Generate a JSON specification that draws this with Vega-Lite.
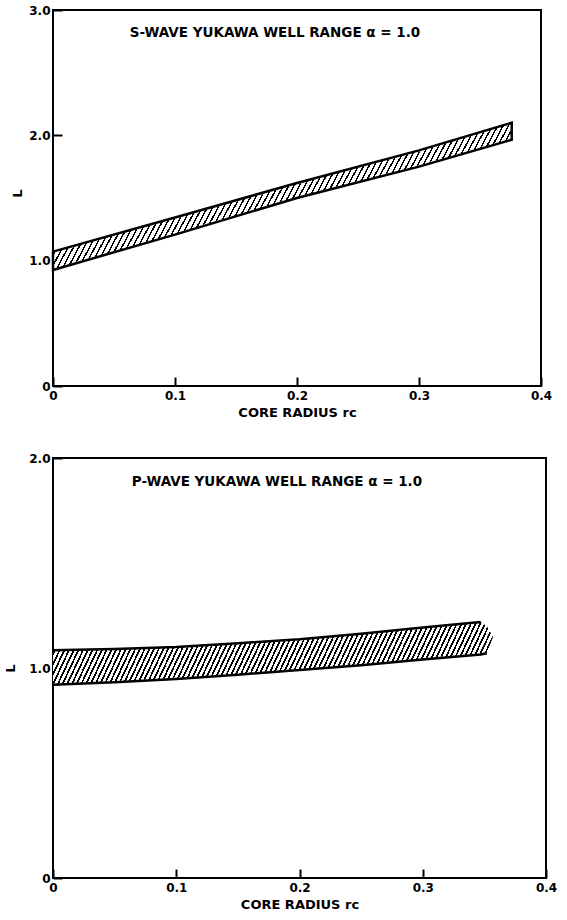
{
"$schema":"https://vega.github.io/schema/vega-lite/v6.json",
"background":"white",
"padding":{"left":3,"top":3,"right":2,"bottom":2},
"bounds":"flush",
"spacing":72,
"config":{
"view":{"stroke":"#000","strokeWidth":2},
"font":"DejaVu Sans",
"axis":{"domain":false,"grid":false,"ticks":true,"zindex":1,"tickColor":"#000","tickWidth":2,"tickSize":-9,"labelFont":"DejaVu Sans","labelFontWeight":"bold","labelFontSize":12,"labelColor":"#000","titleFont":"DejaVu Sans","titleFontWeight":"bold","titleFontSize":13,"titleColor":"#000","labelFlush":false}
},
"datasets":{
"s":[
{"rc":0,"lo":0.926,"hi":1.072},
{"rc":0.1,"lo":1.208,"hi":1.344},
{"rc":0.2,"lo":1.5,"hi":1.62},
{"rc":0.3,"lo":1.75,"hi":1.88},
{"rc":0.376,"lo":1.965,"hi":2.1}
],
"p":[
{"rc":0,"lo":0.92,"hi":1.085,"top":1.085,"bot":0.92},
{"rc":0.05,"lo":0.932,"hi":1.09,"top":1.09,"bot":0.932},
{"rc":0.1,"lo":0.948,"hi":1.1,"top":1.1,"bot":0.948},
{"rc":0.15,"lo":0.968,"hi":1.118,"top":1.118,"bot":0.968},
{"rc":0.2,"lo":0.99,"hi":1.137,"top":1.137,"bot":0.99},
{"rc":0.25,"lo":1.013,"hi":1.163,"top":1.163,"bot":1.013},
{"rc":0.3,"lo":1.04,"hi":1.193,"top":1.193,"bot":1.04},
{"rc":0.347,"lo":1.064,"hi":1.219,"top":1.219,"bot":1.064},
{"rc":0.352,"lo":1.07,"hi":1.2,"top":null,"bot":1.07},
{"rc":0.357,"lo":1.148,"hi":1.148,"top":null,"bot":null}
]
},
"vconcat":[
{
"width":488,"height":376,
"data":{"name":"s"},
"layer":[
{"mark":{"type":"area","stroke":"#000","strokeWidth":2.5,"fill":{"gradient":"linear","x1":0,"y1":0,"x2":1.137,"y2":0.194,"stops":[
{"offset":0.00,"color":"#000"},{"offset":0.003,"color":"#000"},{"offset":0.003,"color":"#fff"},{"offset":0.01,"color":"#fff"},
{"offset":0.01,"color":"#000"},{"offset":0.013,"color":"#000"},{"offset":0.013,"color":"#fff"},{"offset":0.02,"color":"#fff"},
{"offset":0.02,"color":"#000"},{"offset":0.023,"color":"#000"},{"offset":0.023,"color":"#fff"},{"offset":0.03,"color":"#fff"},
{"offset":0.03,"color":"#000"},{"offset":0.033,"color":"#000"},{"offset":0.033,"color":"#fff"},{"offset":0.04,"color":"#fff"},
{"offset":0.04,"color":"#000"},{"offset":0.043,"color":"#000"},{"offset":0.043,"color":"#fff"},{"offset":0.05,"color":"#fff"},
{"offset":0.05,"color":"#000"},{"offset":0.053,"color":"#000"},{"offset":0.053,"color":"#fff"},{"offset":0.06,"color":"#fff"},
{"offset":0.06,"color":"#000"},{"offset":0.063,"color":"#000"},{"offset":0.063,"color":"#fff"},{"offset":0.07,"color":"#fff"},
{"offset":0.07,"color":"#000"},{"offset":0.073,"color":"#000"},{"offset":0.073,"color":"#fff"},{"offset":0.08,"color":"#fff"},
{"offset":0.08,"color":"#000"},{"offset":0.083,"color":"#000"},{"offset":0.083,"color":"#fff"},{"offset":0.09,"color":"#fff"},
{"offset":0.09,"color":"#000"},{"offset":0.093,"color":"#000"},{"offset":0.093,"color":"#fff"},{"offset":0.10,"color":"#fff"},
{"offset":0.10,"color":"#000"},{"offset":0.103,"color":"#000"},{"offset":0.103,"color":"#fff"},{"offset":0.11,"color":"#fff"},
{"offset":0.11,"color":"#000"},{"offset":0.113,"color":"#000"},{"offset":0.113,"color":"#fff"},{"offset":0.12,"color":"#fff"},
{"offset":0.12,"color":"#000"},{"offset":0.123,"color":"#000"},{"offset":0.123,"color":"#fff"},{"offset":0.13,"color":"#fff"},
{"offset":0.13,"color":"#000"},{"offset":0.133,"color":"#000"},{"offset":0.133,"color":"#fff"},{"offset":0.14,"color":"#fff"},
{"offset":0.14,"color":"#000"},{"offset":0.143,"color":"#000"},{"offset":0.143,"color":"#fff"},{"offset":0.15,"color":"#fff"},
{"offset":0.15,"color":"#000"},{"offset":0.153,"color":"#000"},{"offset":0.153,"color":"#fff"},{"offset":0.16,"color":"#fff"},
{"offset":0.16,"color":"#000"},{"offset":0.163,"color":"#000"},{"offset":0.163,"color":"#fff"},{"offset":0.17,"color":"#fff"},
{"offset":0.17,"color":"#000"},{"offset":0.173,"color":"#000"},{"offset":0.173,"color":"#fff"},{"offset":0.18,"color":"#fff"},
{"offset":0.18,"color":"#000"},{"offset":0.183,"color":"#000"},{"offset":0.183,"color":"#fff"},{"offset":0.19,"color":"#fff"},
{"offset":0.19,"color":"#000"},{"offset":0.193,"color":"#000"},{"offset":0.193,"color":"#fff"},{"offset":0.20,"color":"#fff"},
{"offset":0.20,"color":"#000"},{"offset":0.203,"color":"#000"},{"offset":0.203,"color":"#fff"},{"offset":0.21,"color":"#fff"},
{"offset":0.21,"color":"#000"},{"offset":0.213,"color":"#000"},{"offset":0.213,"color":"#fff"},{"offset":0.22,"color":"#fff"},
{"offset":0.22,"color":"#000"},{"offset":0.223,"color":"#000"},{"offset":0.223,"color":"#fff"},{"offset":0.23,"color":"#fff"},
{"offset":0.23,"color":"#000"},{"offset":0.233,"color":"#000"},{"offset":0.233,"color":"#fff"},{"offset":0.24,"color":"#fff"},
{"offset":0.24,"color":"#000"},{"offset":0.243,"color":"#000"},{"offset":0.243,"color":"#fff"},{"offset":0.25,"color":"#fff"},
{"offset":0.25,"color":"#000"},{"offset":0.253,"color":"#000"},{"offset":0.253,"color":"#fff"},{"offset":0.26,"color":"#fff"},
{"offset":0.26,"color":"#000"},{"offset":0.263,"color":"#000"},{"offset":0.263,"color":"#fff"},{"offset":0.27,"color":"#fff"},
{"offset":0.27,"color":"#000"},{"offset":0.273,"color":"#000"},{"offset":0.273,"color":"#fff"},{"offset":0.28,"color":"#fff"},
{"offset":0.28,"color":"#000"},{"offset":0.283,"color":"#000"},{"offset":0.283,"color":"#fff"},{"offset":0.29,"color":"#fff"},
{"offset":0.29,"color":"#000"},{"offset":0.293,"color":"#000"},{"offset":0.293,"color":"#fff"},{"offset":0.30,"color":"#fff"},
{"offset":0.30,"color":"#000"},{"offset":0.303,"color":"#000"},{"offset":0.303,"color":"#fff"},{"offset":0.31,"color":"#fff"},
{"offset":0.31,"color":"#000"},{"offset":0.313,"color":"#000"},{"offset":0.313,"color":"#fff"},{"offset":0.32,"color":"#fff"},
{"offset":0.32,"color":"#000"},{"offset":0.323,"color":"#000"},{"offset":0.323,"color":"#fff"},{"offset":0.33,"color":"#fff"},
{"offset":0.33,"color":"#000"},{"offset":0.333,"color":"#000"},{"offset":0.333,"color":"#fff"},{"offset":0.34,"color":"#fff"},
{"offset":0.34,"color":"#000"},{"offset":0.343,"color":"#000"},{"offset":0.343,"color":"#fff"},{"offset":0.35,"color":"#fff"},
{"offset":0.35,"color":"#000"},{"offset":0.353,"color":"#000"},{"offset":0.353,"color":"#fff"},{"offset":0.36,"color":"#fff"},
{"offset":0.36,"color":"#000"},{"offset":0.363,"color":"#000"},{"offset":0.363,"color":"#fff"},{"offset":0.37,"color":"#fff"},
{"offset":0.37,"color":"#000"},{"offset":0.373,"color":"#000"},{"offset":0.373,"color":"#fff"},{"offset":0.38,"color":"#fff"},
{"offset":0.38,"color":"#000"},{"offset":0.383,"color":"#000"},{"offset":0.383,"color":"#fff"},{"offset":0.39,"color":"#fff"},
{"offset":0.39,"color":"#000"},{"offset":0.393,"color":"#000"},{"offset":0.393,"color":"#fff"},{"offset":0.40,"color":"#fff"},
{"offset":0.40,"color":"#000"},{"offset":0.403,"color":"#000"},{"offset":0.403,"color":"#fff"},{"offset":0.41,"color":"#fff"},
{"offset":0.41,"color":"#000"},{"offset":0.413,"color":"#000"},{"offset":0.413,"color":"#fff"},{"offset":0.42,"color":"#fff"},
{"offset":0.42,"color":"#000"},{"offset":0.423,"color":"#000"},{"offset":0.423,"color":"#fff"},{"offset":0.43,"color":"#fff"},
{"offset":0.43,"color":"#000"},{"offset":0.433,"color":"#000"},{"offset":0.433,"color":"#fff"},{"offset":0.44,"color":"#fff"},
{"offset":0.44,"color":"#000"},{"offset":0.443,"color":"#000"},{"offset":0.443,"color":"#fff"},{"offset":0.45,"color":"#fff"},
{"offset":0.45,"color":"#000"},{"offset":0.453,"color":"#000"},{"offset":0.453,"color":"#fff"},{"offset":0.46,"color":"#fff"},
{"offset":0.46,"color":"#000"},{"offset":0.463,"color":"#000"},{"offset":0.463,"color":"#fff"},{"offset":0.47,"color":"#fff"},
{"offset":0.47,"color":"#000"},{"offset":0.473,"color":"#000"},{"offset":0.473,"color":"#fff"},{"offset":0.48,"color":"#fff"},
{"offset":0.48,"color":"#000"},{"offset":0.483,"color":"#000"},{"offset":0.483,"color":"#fff"},{"offset":0.49,"color":"#fff"},
{"offset":0.49,"color":"#000"},{"offset":0.493,"color":"#000"},{"offset":0.493,"color":"#fff"},{"offset":0.50,"color":"#fff"},
{"offset":0.50,"color":"#000"},{"offset":0.503,"color":"#000"},{"offset":0.503,"color":"#fff"},{"offset":0.51,"color":"#fff"},
{"offset":0.51,"color":"#000"},{"offset":0.513,"color":"#000"},{"offset":0.513,"color":"#fff"},{"offset":0.52,"color":"#fff"},
{"offset":0.52,"color":"#000"},{"offset":0.523,"color":"#000"},{"offset":0.523,"color":"#fff"},{"offset":0.53,"color":"#fff"},
{"offset":0.53,"color":"#000"},{"offset":0.533,"color":"#000"},{"offset":0.533,"color":"#fff"},{"offset":0.54,"color":"#fff"},
{"offset":0.54,"color":"#000"},{"offset":0.543,"color":"#000"},{"offset":0.543,"color":"#fff"},{"offset":0.55,"color":"#fff"},
{"offset":0.55,"color":"#000"},{"offset":0.553,"color":"#000"},{"offset":0.553,"color":"#fff"},{"offset":0.56,"color":"#fff"},
{"offset":0.56,"color":"#000"},{"offset":0.563,"color":"#000"},{"offset":0.563,"color":"#fff"},{"offset":0.57,"color":"#fff"},
{"offset":0.57,"color":"#000"},{"offset":0.573,"color":"#000"},{"offset":0.573,"color":"#fff"},{"offset":0.58,"color":"#fff"},
{"offset":0.58,"color":"#000"},{"offset":0.583,"color":"#000"},{"offset":0.583,"color":"#fff"},{"offset":0.59,"color":"#fff"},
{"offset":0.59,"color":"#000"},{"offset":0.593,"color":"#000"},{"offset":0.593,"color":"#fff"},{"offset":0.60,"color":"#fff"},
{"offset":0.60,"color":"#000"},{"offset":0.603,"color":"#000"},{"offset":0.603,"color":"#fff"},{"offset":0.61,"color":"#fff"},
{"offset":0.61,"color":"#000"},{"offset":0.613,"color":"#000"},{"offset":0.613,"color":"#fff"},{"offset":0.62,"color":"#fff"},
{"offset":0.62,"color":"#000"},{"offset":0.623,"color":"#000"},{"offset":0.623,"color":"#fff"},{"offset":0.63,"color":"#fff"},
{"offset":0.63,"color":"#000"},{"offset":0.633,"color":"#000"},{"offset":0.633,"color":"#fff"},{"offset":0.64,"color":"#fff"},
{"offset":0.64,"color":"#000"},{"offset":0.643,"color":"#000"},{"offset":0.643,"color":"#fff"},{"offset":0.65,"color":"#fff"},
{"offset":0.65,"color":"#000"},{"offset":0.653,"color":"#000"},{"offset":0.653,"color":"#fff"},{"offset":0.66,"color":"#fff"},
{"offset":0.66,"color":"#000"},{"offset":0.663,"color":"#000"},{"offset":0.663,"color":"#fff"},{"offset":0.67,"color":"#fff"},
{"offset":0.67,"color":"#000"},{"offset":0.673,"color":"#000"},{"offset":0.673,"color":"#fff"},{"offset":0.68,"color":"#fff"},
{"offset":0.68,"color":"#000"},{"offset":0.683,"color":"#000"},{"offset":0.683,"color":"#fff"},{"offset":0.69,"color":"#fff"},
{"offset":0.69,"color":"#000"},{"offset":0.693,"color":"#000"},{"offset":0.693,"color":"#fff"},{"offset":0.70,"color":"#fff"},
{"offset":0.70,"color":"#000"},{"offset":0.703,"color":"#000"},{"offset":0.703,"color":"#fff"},{"offset":0.71,"color":"#fff"},
{"offset":0.71,"color":"#000"},{"offset":0.713,"color":"#000"},{"offset":0.713,"color":"#fff"},{"offset":0.72,"color":"#fff"},
{"offset":0.72,"color":"#000"},{"offset":0.723,"color":"#000"},{"offset":0.723,"color":"#fff"},{"offset":0.73,"color":"#fff"},
{"offset":0.73,"color":"#000"},{"offset":0.733,"color":"#000"},{"offset":0.733,"color":"#fff"},{"offset":0.74,"color":"#fff"},
{"offset":0.74,"color":"#000"},{"offset":0.743,"color":"#000"},{"offset":0.743,"color":"#fff"},{"offset":0.75,"color":"#fff"},
{"offset":0.75,"color":"#000"},{"offset":0.753,"color":"#000"},{"offset":0.753,"color":"#fff"},{"offset":0.76,"color":"#fff"},
{"offset":0.76,"color":"#000"},{"offset":0.763,"color":"#000"},{"offset":0.763,"color":"#fff"},{"offset":0.77,"color":"#fff"},
{"offset":0.77,"color":"#000"},{"offset":0.773,"color":"#000"},{"offset":0.773,"color":"#fff"},{"offset":0.78,"color":"#fff"},
{"offset":0.78,"color":"#000"},{"offset":0.783,"color":"#000"},{"offset":0.783,"color":"#fff"},{"offset":0.79,"color":"#fff"},
{"offset":0.79,"color":"#000"},{"offset":0.793,"color":"#000"},{"offset":0.793,"color":"#fff"},{"offset":0.80,"color":"#fff"},
{"offset":0.80,"color":"#000"},{"offset":0.803,"color":"#000"},{"offset":0.803,"color":"#fff"},{"offset":0.81,"color":"#fff"},
{"offset":0.81,"color":"#000"},{"offset":0.813,"color":"#000"},{"offset":0.813,"color":"#fff"},{"offset":0.82,"color":"#fff"},
{"offset":0.82,"color":"#000"},{"offset":0.823,"color":"#000"},{"offset":0.823,"color":"#fff"},{"offset":0.83,"color":"#fff"},
{"offset":0.83,"color":"#000"},{"offset":0.833,"color":"#000"},{"offset":0.833,"color":"#fff"},{"offset":0.84,"color":"#fff"},
{"offset":0.84,"color":"#000"},{"offset":0.843,"color":"#000"},{"offset":0.843,"color":"#fff"},{"offset":0.85,"color":"#fff"},
{"offset":0.85,"color":"#000"},{"offset":0.853,"color":"#000"},{"offset":0.853,"color":"#fff"},{"offset":0.86,"color":"#fff"},
{"offset":0.86,"color":"#000"},{"offset":0.863,"color":"#000"},{"offset":0.863,"color":"#fff"},{"offset":0.87,"color":"#fff"},
{"offset":0.87,"color":"#000"},{"offset":0.873,"color":"#000"},{"offset":0.873,"color":"#fff"},{"offset":0.88,"color":"#fff"},
{"offset":0.88,"color":"#000"},{"offset":0.883,"color":"#000"},{"offset":0.883,"color":"#fff"},{"offset":0.89,"color":"#fff"},
{"offset":0.89,"color":"#000"},{"offset":0.893,"color":"#000"},{"offset":0.893,"color":"#fff"},{"offset":0.90,"color":"#fff"},
{"offset":0.90,"color":"#000"},{"offset":0.903,"color":"#000"},{"offset":0.903,"color":"#fff"},{"offset":0.91,"color":"#fff"},
{"offset":0.91,"color":"#000"},{"offset":0.913,"color":"#000"},{"offset":0.913,"color":"#fff"},{"offset":0.92,"color":"#fff"},
{"offset":0.92,"color":"#000"},{"offset":0.923,"color":"#000"},{"offset":0.923,"color":"#fff"},{"offset":0.93,"color":"#fff"},
{"offset":0.93,"color":"#000"},{"offset":0.933,"color":"#000"},{"offset":0.933,"color":"#fff"},{"offset":0.94,"color":"#fff"},
{"offset":0.94,"color":"#000"},{"offset":0.943,"color":"#000"},{"offset":0.943,"color":"#fff"},{"offset":0.95,"color":"#fff"},
{"offset":0.95,"color":"#000"},{"offset":0.953,"color":"#000"},{"offset":0.953,"color":"#fff"},{"offset":0.96,"color":"#fff"},
{"offset":0.96,"color":"#000"},{"offset":0.963,"color":"#000"},{"offset":0.963,"color":"#fff"},{"offset":0.97,"color":"#fff"},
{"offset":0.97,"color":"#000"},{"offset":0.973,"color":"#000"},{"offset":0.973,"color":"#fff"},{"offset":0.98,"color":"#fff"},
{"offset":0.98,"color":"#000"},{"offset":0.983,"color":"#000"},{"offset":0.983,"color":"#fff"},{"offset":0.99,"color":"#fff"},
{"offset":0.99,"color":"#000"},{"offset":0.993,"color":"#000"},{"offset":0.993,"color":"#fff"},{"offset":1.00,"color":"#fff"}
]}},
"encoding":{
"x":{"field":"rc","type":"quantitative","scale":{"domain":[0,0.4],"nice":false},"axis":{"values":[0,0.1,0.2,0.3,0.4],"labelExpr":"datum.value == 0 ? '0' : format(datum.value, '.1f')","title":"CORE RADIUS rc","labelPadding":13,"titlePadding":5}},
"y":{"field":"lo","type":"quantitative","scale":{"domain":[0,3],"nice":false},"axis":{"values":[0,1,2,3],"labelExpr":"datum.value == 0 ? '0' : format(datum.value, '.1f')","title":"L","labelPadding":12,"titleX":-29,"titleY":183}},
"y2":{"field":"hi"}
}},
{"data":{"values":[{"label":"S-WAVE YUKAWA WELL RANGE α = 1.0"}]},
"mark":{"type":"text","font":"DejaVu Sans","fontWeight":"bold","fontSize":13.5,"color":"#000"},
"encoding":{"x":{"datum":0.182},"y":{"datum":2.814},"text":{"field":"label"}}}
]
},
{
"width":493,"height":420,
"data":{"name":"p"},
"layer":[
{"mark":{"type":"area","fill":{"gradient":"linear","x1":0,"y1":0,"x2":1.062,"y2":0.0707,"stops":[
{"offset":0.00,"color":"#000"},{"offset":0.004,"color":"#000"},{"offset":0.004,"color":"#fff"},{"offset":0.01,"color":"#fff"},
{"offset":0.01,"color":"#000"},{"offset":0.014,"color":"#000"},{"offset":0.014,"color":"#fff"},{"offset":0.02,"color":"#fff"},
{"offset":0.02,"color":"#000"},{"offset":0.024,"color":"#000"},{"offset":0.024,"color":"#fff"},{"offset":0.03,"color":"#fff"},
{"offset":0.03,"color":"#000"},{"offset":0.034,"color":"#000"},{"offset":0.034,"color":"#fff"},{"offset":0.04,"color":"#fff"},
{"offset":0.04,"color":"#000"},{"offset":0.044,"color":"#000"},{"offset":0.044,"color":"#fff"},{"offset":0.05,"color":"#fff"},
{"offset":0.05,"color":"#000"},{"offset":0.054,"color":"#000"},{"offset":0.054,"color":"#fff"},{"offset":0.06,"color":"#fff"},
{"offset":0.06,"color":"#000"},{"offset":0.064,"color":"#000"},{"offset":0.064,"color":"#fff"},{"offset":0.07,"color":"#fff"},
{"offset":0.07,"color":"#000"},{"offset":0.074,"color":"#000"},{"offset":0.074,"color":"#fff"},{"offset":0.08,"color":"#fff"},
{"offset":0.08,"color":"#000"},{"offset":0.084,"color":"#000"},{"offset":0.084,"color":"#fff"},{"offset":0.09,"color":"#fff"},
{"offset":0.09,"color":"#000"},{"offset":0.094,"color":"#000"},{"offset":0.094,"color":"#fff"},{"offset":0.10,"color":"#fff"},
{"offset":0.10,"color":"#000"},{"offset":0.104,"color":"#000"},{"offset":0.104,"color":"#fff"},{"offset":0.11,"color":"#fff"},
{"offset":0.11,"color":"#000"},{"offset":0.114,"color":"#000"},{"offset":0.114,"color":"#fff"},{"offset":0.12,"color":"#fff"},
{"offset":0.12,"color":"#000"},{"offset":0.124,"color":"#000"},{"offset":0.124,"color":"#fff"},{"offset":0.13,"color":"#fff"},
{"offset":0.13,"color":"#000"},{"offset":0.134,"color":"#000"},{"offset":0.134,"color":"#fff"},{"offset":0.14,"color":"#fff"},
{"offset":0.14,"color":"#000"},{"offset":0.144,"color":"#000"},{"offset":0.144,"color":"#fff"},{"offset":0.15,"color":"#fff"},
{"offset":0.15,"color":"#000"},{"offset":0.154,"color":"#000"},{"offset":0.154,"color":"#fff"},{"offset":0.16,"color":"#fff"},
{"offset":0.16,"color":"#000"},{"offset":0.164,"color":"#000"},{"offset":0.164,"color":"#fff"},{"offset":0.17,"color":"#fff"},
{"offset":0.17,"color":"#000"},{"offset":0.174,"color":"#000"},{"offset":0.174,"color":"#fff"},{"offset":0.18,"color":"#fff"},
{"offset":0.18,"color":"#000"},{"offset":0.184,"color":"#000"},{"offset":0.184,"color":"#fff"},{"offset":0.19,"color":"#fff"},
{"offset":0.19,"color":"#000"},{"offset":0.194,"color":"#000"},{"offset":0.194,"color":"#fff"},{"offset":0.20,"color":"#fff"},
{"offset":0.20,"color":"#000"},{"offset":0.204,"color":"#000"},{"offset":0.204,"color":"#fff"},{"offset":0.21,"color":"#fff"},
{"offset":0.21,"color":"#000"},{"offset":0.214,"color":"#000"},{"offset":0.214,"color":"#fff"},{"offset":0.22,"color":"#fff"},
{"offset":0.22,"color":"#000"},{"offset":0.224,"color":"#000"},{"offset":0.224,"color":"#fff"},{"offset":0.23,"color":"#fff"},
{"offset":0.23,"color":"#000"},{"offset":0.234,"color":"#000"},{"offset":0.234,"color":"#fff"},{"offset":0.24,"color":"#fff"},
{"offset":0.24,"color":"#000"},{"offset":0.244,"color":"#000"},{"offset":0.244,"color":"#fff"},{"offset":0.25,"color":"#fff"},
{"offset":0.25,"color":"#000"},{"offset":0.254,"color":"#000"},{"offset":0.254,"color":"#fff"},{"offset":0.26,"color":"#fff"},
{"offset":0.26,"color":"#000"},{"offset":0.264,"color":"#000"},{"offset":0.264,"color":"#fff"},{"offset":0.27,"color":"#fff"},
{"offset":0.27,"color":"#000"},{"offset":0.274,"color":"#000"},{"offset":0.274,"color":"#fff"},{"offset":0.28,"color":"#fff"},
{"offset":0.28,"color":"#000"},{"offset":0.284,"color":"#000"},{"offset":0.284,"color":"#fff"},{"offset":0.29,"color":"#fff"},
{"offset":0.29,"color":"#000"},{"offset":0.294,"color":"#000"},{"offset":0.294,"color":"#fff"},{"offset":0.30,"color":"#fff"},
{"offset":0.30,"color":"#000"},{"offset":0.304,"color":"#000"},{"offset":0.304,"color":"#fff"},{"offset":0.31,"color":"#fff"},
{"offset":0.31,"color":"#000"},{"offset":0.314,"color":"#000"},{"offset":0.314,"color":"#fff"},{"offset":0.32,"color":"#fff"},
{"offset":0.32,"color":"#000"},{"offset":0.324,"color":"#000"},{"offset":0.324,"color":"#fff"},{"offset":0.33,"color":"#fff"},
{"offset":0.33,"color":"#000"},{"offset":0.334,"color":"#000"},{"offset":0.334,"color":"#fff"},{"offset":0.34,"color":"#fff"},
{"offset":0.34,"color":"#000"},{"offset":0.344,"color":"#000"},{"offset":0.344,"color":"#fff"},{"offset":0.35,"color":"#fff"},
{"offset":0.35,"color":"#000"},{"offset":0.354,"color":"#000"},{"offset":0.354,"color":"#fff"},{"offset":0.36,"color":"#fff"},
{"offset":0.36,"color":"#000"},{"offset":0.364,"color":"#000"},{"offset":0.364,"color":"#fff"},{"offset":0.37,"color":"#fff"},
{"offset":0.37,"color":"#000"},{"offset":0.374,"color":"#000"},{"offset":0.374,"color":"#fff"},{"offset":0.38,"color":"#fff"},
{"offset":0.38,"color":"#000"},{"offset":0.384,"color":"#000"},{"offset":0.384,"color":"#fff"},{"offset":0.39,"color":"#fff"},
{"offset":0.39,"color":"#000"},{"offset":0.394,"color":"#000"},{"offset":0.394,"color":"#fff"},{"offset":0.40,"color":"#fff"},
{"offset":0.40,"color":"#000"},{"offset":0.404,"color":"#000"},{"offset":0.404,"color":"#fff"},{"offset":0.41,"color":"#fff"},
{"offset":0.41,"color":"#000"},{"offset":0.414,"color":"#000"},{"offset":0.414,"color":"#fff"},{"offset":0.42,"color":"#fff"},
{"offset":0.42,"color":"#000"},{"offset":0.424,"color":"#000"},{"offset":0.424,"color":"#fff"},{"offset":0.43,"color":"#fff"},
{"offset":0.43,"color":"#000"},{"offset":0.434,"color":"#000"},{"offset":0.434,"color":"#fff"},{"offset":0.44,"color":"#fff"},
{"offset":0.44,"color":"#000"},{"offset":0.444,"color":"#000"},{"offset":0.444,"color":"#fff"},{"offset":0.45,"color":"#fff"},
{"offset":0.45,"color":"#000"},{"offset":0.454,"color":"#000"},{"offset":0.454,"color":"#fff"},{"offset":0.46,"color":"#fff"},
{"offset":0.46,"color":"#000"},{"offset":0.464,"color":"#000"},{"offset":0.464,"color":"#fff"},{"offset":0.47,"color":"#fff"},
{"offset":0.47,"color":"#000"},{"offset":0.474,"color":"#000"},{"offset":0.474,"color":"#fff"},{"offset":0.48,"color":"#fff"},
{"offset":0.48,"color":"#000"},{"offset":0.484,"color":"#000"},{"offset":0.484,"color":"#fff"},{"offset":0.49,"color":"#fff"},
{"offset":0.49,"color":"#000"},{"offset":0.494,"color":"#000"},{"offset":0.494,"color":"#fff"},{"offset":0.50,"color":"#fff"},
{"offset":0.50,"color":"#000"},{"offset":0.504,"color":"#000"},{"offset":0.504,"color":"#fff"},{"offset":0.51,"color":"#fff"},
{"offset":0.51,"color":"#000"},{"offset":0.514,"color":"#000"},{"offset":0.514,"color":"#fff"},{"offset":0.52,"color":"#fff"},
{"offset":0.52,"color":"#000"},{"offset":0.524,"color":"#000"},{"offset":0.524,"color":"#fff"},{"offset":0.53,"color":"#fff"},
{"offset":0.53,"color":"#000"},{"offset":0.534,"color":"#000"},{"offset":0.534,"color":"#fff"},{"offset":0.54,"color":"#fff"},
{"offset":0.54,"color":"#000"},{"offset":0.544,"color":"#000"},{"offset":0.544,"color":"#fff"},{"offset":0.55,"color":"#fff"},
{"offset":0.55,"color":"#000"},{"offset":0.554,"color":"#000"},{"offset":0.554,"color":"#fff"},{"offset":0.56,"color":"#fff"},
{"offset":0.56,"color":"#000"},{"offset":0.564,"color":"#000"},{"offset":0.564,"color":"#fff"},{"offset":0.57,"color":"#fff"},
{"offset":0.57,"color":"#000"},{"offset":0.574,"color":"#000"},{"offset":0.574,"color":"#fff"},{"offset":0.58,"color":"#fff"},
{"offset":0.58,"color":"#000"},{"offset":0.584,"color":"#000"},{"offset":0.584,"color":"#fff"},{"offset":0.59,"color":"#fff"},
{"offset":0.59,"color":"#000"},{"offset":0.594,"color":"#000"},{"offset":0.594,"color":"#fff"},{"offset":0.60,"color":"#fff"},
{"offset":0.60,"color":"#000"},{"offset":0.604,"color":"#000"},{"offset":0.604,"color":"#fff"},{"offset":0.61,"color":"#fff"},
{"offset":0.61,"color":"#000"},{"offset":0.614,"color":"#000"},{"offset":0.614,"color":"#fff"},{"offset":0.62,"color":"#fff"},
{"offset":0.62,"color":"#000"},{"offset":0.624,"color":"#000"},{"offset":0.624,"color":"#fff"},{"offset":0.63,"color":"#fff"},
{"offset":0.63,"color":"#000"},{"offset":0.634,"color":"#000"},{"offset":0.634,"color":"#fff"},{"offset":0.64,"color":"#fff"},
{"offset":0.64,"color":"#000"},{"offset":0.644,"color":"#000"},{"offset":0.644,"color":"#fff"},{"offset":0.65,"color":"#fff"},
{"offset":0.65,"color":"#000"},{"offset":0.654,"color":"#000"},{"offset":0.654,"color":"#fff"},{"offset":0.66,"color":"#fff"},
{"offset":0.66,"color":"#000"},{"offset":0.664,"color":"#000"},{"offset":0.664,"color":"#fff"},{"offset":0.67,"color":"#fff"},
{"offset":0.67,"color":"#000"},{"offset":0.674,"color":"#000"},{"offset":0.674,"color":"#fff"},{"offset":0.68,"color":"#fff"},
{"offset":0.68,"color":"#000"},{"offset":0.684,"color":"#000"},{"offset":0.684,"color":"#fff"},{"offset":0.69,"color":"#fff"},
{"offset":0.69,"color":"#000"},{"offset":0.694,"color":"#000"},{"offset":0.694,"color":"#fff"},{"offset":0.70,"color":"#fff"},
{"offset":0.70,"color":"#000"},{"offset":0.704,"color":"#000"},{"offset":0.704,"color":"#fff"},{"offset":0.71,"color":"#fff"},
{"offset":0.71,"color":"#000"},{"offset":0.714,"color":"#000"},{"offset":0.714,"color":"#fff"},{"offset":0.72,"color":"#fff"},
{"offset":0.72,"color":"#000"},{"offset":0.724,"color":"#000"},{"offset":0.724,"color":"#fff"},{"offset":0.73,"color":"#fff"},
{"offset":0.73,"color":"#000"},{"offset":0.734,"color":"#000"},{"offset":0.734,"color":"#fff"},{"offset":0.74,"color":"#fff"},
{"offset":0.74,"color":"#000"},{"offset":0.744,"color":"#000"},{"offset":0.744,"color":"#fff"},{"offset":0.75,"color":"#fff"},
{"offset":0.75,"color":"#000"},{"offset":0.754,"color":"#000"},{"offset":0.754,"color":"#fff"},{"offset":0.76,"color":"#fff"},
{"offset":0.76,"color":"#000"},{"offset":0.764,"color":"#000"},{"offset":0.764,"color":"#fff"},{"offset":0.77,"color":"#fff"},
{"offset":0.77,"color":"#000"},{"offset":0.774,"color":"#000"},{"offset":0.774,"color":"#fff"},{"offset":0.78,"color":"#fff"},
{"offset":0.78,"color":"#000"},{"offset":0.784,"color":"#000"},{"offset":0.784,"color":"#fff"},{"offset":0.79,"color":"#fff"},
{"offset":0.79,"color":"#000"},{"offset":0.794,"color":"#000"},{"offset":0.794,"color":"#fff"},{"offset":0.80,"color":"#fff"},
{"offset":0.80,"color":"#000"},{"offset":0.804,"color":"#000"},{"offset":0.804,"color":"#fff"},{"offset":0.81,"color":"#fff"},
{"offset":0.81,"color":"#000"},{"offset":0.814,"color":"#000"},{"offset":0.814,"color":"#fff"},{"offset":0.82,"color":"#fff"},
{"offset":0.82,"color":"#000"},{"offset":0.824,"color":"#000"},{"offset":0.824,"color":"#fff"},{"offset":0.83,"color":"#fff"},
{"offset":0.83,"color":"#000"},{"offset":0.834,"color":"#000"},{"offset":0.834,"color":"#fff"},{"offset":0.84,"color":"#fff"},
{"offset":0.84,"color":"#000"},{"offset":0.844,"color":"#000"},{"offset":0.844,"color":"#fff"},{"offset":0.85,"color":"#fff"},
{"offset":0.85,"color":"#000"},{"offset":0.854,"color":"#000"},{"offset":0.854,"color":"#fff"},{"offset":0.86,"color":"#fff"},
{"offset":0.86,"color":"#000"},{"offset":0.864,"color":"#000"},{"offset":0.864,"color":"#fff"},{"offset":0.87,"color":"#fff"},
{"offset":0.87,"color":"#000"},{"offset":0.874,"color":"#000"},{"offset":0.874,"color":"#fff"},{"offset":0.88,"color":"#fff"},
{"offset":0.88,"color":"#000"},{"offset":0.884,"color":"#000"},{"offset":0.884,"color":"#fff"},{"offset":0.89,"color":"#fff"},
{"offset":0.89,"color":"#000"},{"offset":0.894,"color":"#000"},{"offset":0.894,"color":"#fff"},{"offset":0.90,"color":"#fff"},
{"offset":0.90,"color":"#000"},{"offset":0.904,"color":"#000"},{"offset":0.904,"color":"#fff"},{"offset":0.91,"color":"#fff"},
{"offset":0.91,"color":"#000"},{"offset":0.914,"color":"#000"},{"offset":0.914,"color":"#fff"},{"offset":0.92,"color":"#fff"},
{"offset":0.92,"color":"#000"},{"offset":0.924,"color":"#000"},{"offset":0.924,"color":"#fff"},{"offset":0.93,"color":"#fff"},
{"offset":0.93,"color":"#000"},{"offset":0.934,"color":"#000"},{"offset":0.934,"color":"#fff"},{"offset":0.94,"color":"#fff"},
{"offset":0.94,"color":"#000"},{"offset":0.944,"color":"#000"},{"offset":0.944,"color":"#fff"},{"offset":0.95,"color":"#fff"},
{"offset":0.95,"color":"#000"},{"offset":0.954,"color":"#000"},{"offset":0.954,"color":"#fff"},{"offset":0.96,"color":"#fff"},
{"offset":0.96,"color":"#000"},{"offset":0.964,"color":"#000"},{"offset":0.964,"color":"#fff"},{"offset":0.97,"color":"#fff"},
{"offset":0.97,"color":"#000"},{"offset":0.974,"color":"#000"},{"offset":0.974,"color":"#fff"},{"offset":0.98,"color":"#fff"},
{"offset":0.98,"color":"#000"},{"offset":0.984,"color":"#000"},{"offset":0.984,"color":"#fff"},{"offset":0.99,"color":"#fff"},
{"offset":0.99,"color":"#000"},{"offset":0.994,"color":"#000"},{"offset":0.994,"color":"#fff"},{"offset":1.00,"color":"#fff"}
]}},
"encoding":{
"x":{"field":"rc","type":"quantitative","scale":{"domain":[0,0.4],"nice":false},"axis":{"values":[0,0.1,0.2,0.3,0.4],"labelExpr":"datum.value == 0 ? '0' : format(datum.value, '.1f')","title":"CORE RADIUS rc","labelPadding":13,"titlePadding":5}},
"y":{"field":"lo","type":"quantitative","scale":{"domain":[0,2],"nice":false},"axis":{"values":[0,1,2],"labelExpr":"datum.value == 0 ? '0' : format(datum.value, '.1f')","title":"L","labelPadding":12,"titleX":-36,"titleY":210}},
"y2":{"field":"hi"}
}},
{"transform":[{"filter":"datum.top != null"}],
"mark":{"type":"line","stroke":"#000","strokeWidth":2.5},
"encoding":{"x":{"field":"rc","type":"quantitative"},"y":{"field":"top","type":"quantitative"}}},
{"transform":[{"filter":"datum.bot != null"}],
"mark":{"type":"line","stroke":"#000","strokeWidth":2.5},
"encoding":{"x":{"field":"rc","type":"quantitative"},"y":{"field":"bot","type":"quantitative"}}},
{"data":{"values":[{"label":"P-WAVE YUKAWA WELL RANGE α = 1.0"}]},
"mark":{"type":"text","font":"DejaVu Sans","fontWeight":"bold","fontSize":13.5,"color":"#000"},
"encoding":{"x":{"datum":0.1817},"y":{"datum":1.886},"text":{"field":"label"}}}
]
}
]
}
